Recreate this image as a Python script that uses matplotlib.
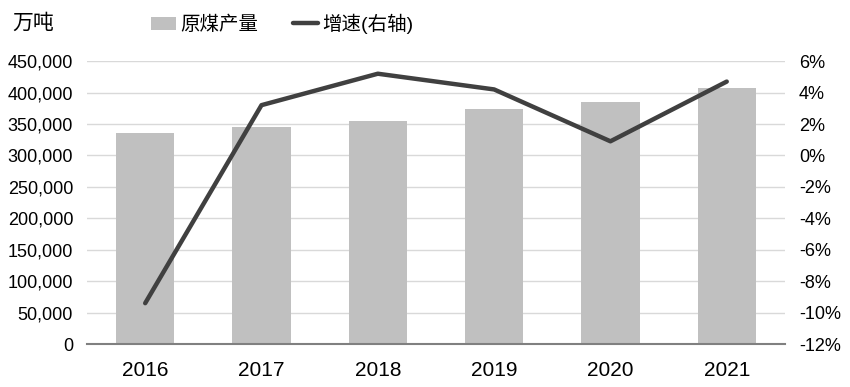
import matplotlib.pyplot as plt
from matplotlib.ticker import FuncFormatter

plt.rcParams['font.family'] = ['Liberation Sans', 'Noto Sans CJK SC', 'DejaVu Sans']

years = ['2016', '2017', '2018', '2019', '2020', '2021']
output = [336000, 344500, 354600, 374600, 384400, 407000]
growth = [-9.4, 3.2, 5.2, 4.2, 0.9, 4.7]

BAR_COLOR = '#c0c0c0'
LINE_COLOR = '#404040'

fig = plt.figure(figsize=(8.5, 3.87), dpi=100)
ax = fig.add_axes([0.1024, 0.111, 0.821, 0.731])
ax2 = ax.twinx()

x = range(len(years))
bars = ax.bar(x, output, width=0.5, color=BAR_COLOR, label='原煤产量', zorder=2)
line, = ax2.plot(x, growth, color=LINE_COLOR, linewidth=3.2, label='增速(右轴)',
                 solid_capstyle='round', zorder=3)

ax.set_xlim(-0.5, len(years) - 0.5)
ax.set_ylim(0, 450000)
ax.set_yticks(range(0, 450001, 50000))
ax.yaxis.set_major_formatter(FuncFormatter(lambda v, p: f'{int(v):,}'))
ax2.set_ylim(-12, 6)
ax2.set_yticks(range(-12, 7, 2))
ax2.yaxis.set_major_formatter(FuncFormatter(lambda v, p: f'{int(v)}%'))

ax.set_xticks(list(x))
ax.set_xticklabels(years)

ax.grid(axis='y', color='#d9d9d9', linewidth=1, zorder=0)
ax.set_axisbelow(True)
for a in (ax, ax2):
    for s in a.spines.values():
        s.set_visible(False)
    a.tick_params(length=0, labelsize=13, colors='black')
ax.spines['bottom'].set_visible(True)
ax.spines['bottom'].set_color('#808080')
ax.spines['bottom'].set_linewidth(1.5)
ax.tick_params(axis='x', pad=12, labelsize=15)
ax.tick_params(axis='y', pad=10)
ax2.tick_params(axis='y', pad=10)

fig.text(0.014, 0.94, '万吨', fontsize=15, ha='left', va='center')
fig.legend([bars, line], ['原煤产量', '增速(右轴)'], loc='center', bbox_to_anchor=(0.332, 0.938),
           ncol=2, frameon=False, fontsize=14, handlelength=1.3, columnspacing=1.8,
           handletextpad=0.2)

fig.savefig('out.png', dpi=100)
